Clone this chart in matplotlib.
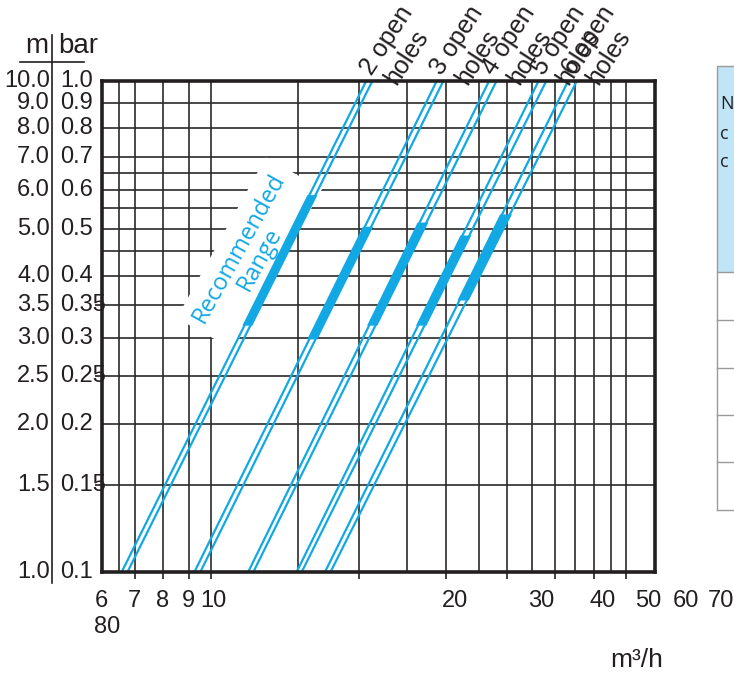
import numpy as np
import matplotlib.pyplot as plt
from matplotlib.lines import Line2D
from matplotlib.patches import Rectangle
from matplotlib.ticker import NullLocator
from matplotlib.transforms import blended_transform_factory

plt.rcParams['font.family'] = ['Liberation Sans Narrow', 'Liberation Sans', 'DejaVu Sans']

# 各曲线数据 (m3/h)，分别对应 0.1 bar 和 1.0 bar，双线的左/右两条
holes = [2, 3, 4, 5, 6]
p_ends = [0.1, 1.0]
q_low_a = [6.58, 9.25, 11.90, 14.93, 17.05]
q_low_b = [6.76, 9.51, 12.19, 15.29, 17.50]
q_high_a = [20.7, 28.8, 36.8, 46.4, 53.3]
q_high_b = [21.3, 29.7, 38.1, 48.1, 55.5]
# 推荐范围 (bar)
rec_low = [0.32, 0.30, 0.32, 0.32, 0.36]
rec_high = [0.58, 0.50, 0.51, 0.48, 0.53]

# 网格
q_grid = [6.5, 7, 8, 9, 10, 15, 20, 25, 30, 35, 40, 45, 50, 55, 60, 65, 70]
p_grid = [0.15, 0.2, 0.25, 0.3, 0.35, 0.4, 0.45, 0.5, 0.55, 0.6, 0.65, 0.7, 0.8, 0.9]
q_ticks = [7, 8, 9, 10, 20, 30, 40, 50, 60, 70]
p_ticks = [0.15, 0.25, 0.35]

# 纵轴标签
bar_values = [1.0, 0.9, 0.8, 0.7, 0.6, 0.5, 0.4, 0.35, 0.3, 0.25, 0.2, 0.15, 0.1]
m_labels = ['10.0', '9.0', '8.0', '7.0', '6.0', '5.0', '4.0', '3.5', '3.0', '2.5', '2.0', '1.5', '1.0']
bar_labels = ['1.0', '0.9', '0.8', '0.7', '0.6', '0.5', '0.4', '0.35', '0.3', '0.25', '0.2', '0.15', '0.1']

# 横轴标签（原图排版错位，按原图位置放）
x_labels = ['6', '7', '8', '9', '10', '20', '30', '40', '50', '60', '70']
x_label_px = [101, 134, 163, 188, 213, 455, 541, 603, 648, 686, 721]

W, H = 734, 673
blue = '#12a8e4'
dark = '#231f20'


def q_at(qa, qb, p):
    t = (np.log10(p) - np.log10(p_ends[0])) / (np.log10(p_ends[1]) - np.log10(p_ends[0]))
    return 10 ** (np.log10(qa) + t * (np.log10(qb) - np.log10(qa)))


fig = plt.figure(figsize=(W / 100, H / 100), dpi=100)
ax = fig.add_axes([102 / W, 101 / H, 553 / W, 491.3 / H])
ax.set_xscale('log')
ax.set_yscale('log')
ax.set_xlim(6, 80)
ax.set_ylim(0.1, 1.0)

for q in q_grid:
    ax.axvline(q, color='#2a2a2a', lw=1.2, zorder=1)
for p in p_grid:
    ax.axhline(p, color='#2a2a2a', lw=1.2, zorder=1)

ax.set_xticks(q_ticks, labels=[''] * len(q_ticks))
ax.set_yticks(p_ticks, labels=[''] * len(p_ticks))
ax.xaxis.set_minor_locator(NullLocator())
ax.yaxis.set_minor_locator(NullLocator())
ax.tick_params(direction='out', length=5, width=1.2, color=dark)
for s in ax.spines.values():
    s.set_linewidth(2.6)
    s.set_color(dark)
    s.set_zorder(5)

# 双线 + 推荐范围加粗
for i in range(len(holes)):
    ax.plot([q_low_a[i], q_high_a[i]], p_ends, color=blue, lw=1.6, zorder=3)
    ax.plot([q_low_b[i], q_high_b[i]], p_ends, color=blue, lw=1.6, zorder=3)
    pr = [rec_low[i], rec_high[i]]
    xa = [q_at(q_low_a[i], q_high_a[i], p) for p in pr]
    xb = [q_at(q_low_b[i], q_high_b[i], p) for p in pr]
    ax.fill([xa[0], xa[1], xb[1], xb[0]], [pr[0], pr[1], pr[1], pr[0]],
            color=blue, lw=2.6, zorder=3)

    # 顶部标签
    ax.text(q_high_a[i] * 1.024, 1.022, f'{holes[i]} open', rotation=57,
            rotation_mode='anchor', ha='left', va='baseline', fontsize=18,
            color=dark, clip_on=False, zorder=6)
    ax.text(q_high_a[i] * 1.151, 0.975, 'holes', rotation=57,
            rotation_mode='anchor', ha='left', va='baseline', fontsize=18,
            color=dark, clip_on=False, zorder=6)

ax.text(11.97, 0.445, 'Recommended\nRange', rotation=61, ha='center', va='center',
        fontsize=17, family='Open Sans', color=blue, linespacing=1.0,
        multialignment='center', zorder=2.5,
        bbox=dict(facecolor='white', edgecolor='none', pad=6))

# 左侧 m | bar 标尺
tr = blended_transform_factory(fig.transFigure, ax.transData)
for v, ml, bl in zip(bar_values, m_labels, bar_labels):
    fig.text(50 / W, v, ml, transform=tr, ha='right', va='center', fontsize=17, color=dark)
    fig.text(60 / W, v, bl, transform=tr, ha='left', va='center', fontsize=17, color=dark)
fig.text(37 / W, 1 - 46 / H, 'm', ha='center', va='center', fontsize=20, color=dark)
fig.text(78 / W, 1 - 46 / H, 'bar', ha='center', va='center', fontsize=20, color=dark)
fig.add_artist(Line2D([52 / W, 52 / W], [1 - 35 / H, 1 - 583 / H], color=dark, lw=1.2))
fig.add_artist(Line2D([20 / W, 84 / W], [1 - 62 / H, 1 - 62 / H], color=dark, lw=1.2))

# 横轴标签
for lab, px in zip(x_labels, x_label_px):
    fig.text(px / W, 1 - 601 / H, lab, ha='center', va='center', fontsize=17, color=dark)
fig.text(107 / W, 1 - 627 / H, '80', ha='center', va='center', fontsize=17, color=dark)
fig.text(637 / W, 1 - 660 / H, 'm³/h', ha='center', va='center', fontsize=19, color=dark)

# 右侧被截断的表格
fig.add_artist(Rectangle((717 / W, 1 - 272 / H), 30 / W, 206 / H,
                         facecolor='#bfe5f7', edgecolor='#9a9a9a', lw=1.0))
for y in [320, 368, 415, 462, 510]:
    fig.add_artist(Line2D([717 / W, 1.0], [1 - y / H, 1 - y / H], color='#9a9a9a', lw=1.0))
fig.add_artist(Line2D([717 / W, 717 / W], [1 - 272 / H, 1 - 510 / H], color='#9a9a9a', lw=1.0))
for y, t in [(104, 'N'), (134, 'c'), (162, 'c')]:
    fig.text(720 / W, 1 - y / H, t, ha='left', va='center', fontsize=13,
             family='Open Sans', color=dark)

fig.savefig('out.png', dpi=100)
